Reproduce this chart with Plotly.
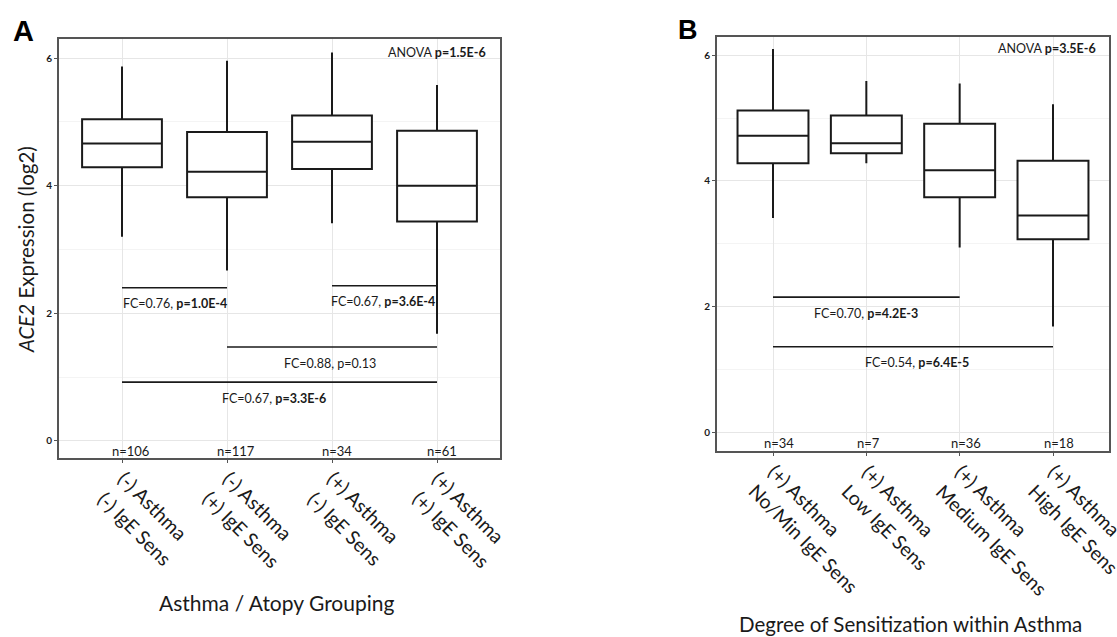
import plotly.graph_objects as go

# ---------------- data ----------------
cats_a = [["(-) Asthma", "(-) IgE Sens"], ["(-) Asthma", "(+) IgE Sens"],
          ["(+) Asthma", "(-) IgE Sens"], ["(+) Asthma", "(+) IgE Sens"]]
n_a = ["n=106", "n=117", "n=34", "n=61"]
low_a = [3.20, 2.67, 3.41, 1.68]
q1_a = [4.29, 3.82, 4.26, 3.44]
med_a = [4.66, 4.22, 4.69, 4.00]
q3_a = [5.04, 4.84, 5.10, 4.86]
high_a = [5.87, 5.96, 6.09, 5.58]

cats_b = [["(+) Asthma", "No/Min IgE Sens"], ["(+) Asthma", "Low IgE Sens"],
          ["(+) Asthma", "Medium IgE Sens"], ["(+) Asthma", "High IgE Sens"]]
n_b = ["n=34", "n=7", "n=36", "n=18"]
low_b = [3.41, 4.28, 2.94, 1.68]
q1_b = [4.28, 4.44, 3.74, 3.07]
med_b = [4.72, 4.60, 4.17, 3.45]
q3_b = [5.12, 5.04, 4.91, 4.32]
high_b = [6.10, 5.59, 5.55, 5.22]

# comparison brackets: (start cat, end cat, line y, label)
brk_a_start = [0, 2, 1, 0]
brk_a_end = [1, 3, 3, 3]
brk_a_y = [2.40, 2.43, 1.47, 0.92]
brk_a_lab = ["FC=0.76, <b>p=1.0E-4</b>", "FC=0.67, <b>p=3.6E-4</b>",
             "FC=0.88, p=0.13", "FC=0.67, <b>p=3.3E-6</b>"]
brk_a_labx = [0.5, 2.49, 1.98, 1.45]

brk_b_start = [0, 0]
brk_b_end = [2, 3]
brk_b_y = [2.15, 1.36]
brk_b_lab = ["FC=0.70, <b>p=4.2E-3</b>", "FC=0.54, <b>p=6.4E-5</b>"]
brk_b_labx = [1.0, 1.54]

anova_a = "ANOVA <b>p=1.5E-6</b>"
anova_b = "ANOVA <b>p=3.5E-6</b>"

FONT = "Lato"
INK = "#1a1a1a"
W, H = 1117, 637

# panel geometry (pixels)
A_L, A_R, A_T, A_B = 59, 500, 39, 458
B_L, B_R, B_T, B_B = 717, 1109, 37, 451

fig = go.Figure()

def add_panel(xa, ya, low, q1, med, q3, high):
    xs = list(range(len(q1)))
    fig.add_trace(go.Box(
        x=xs, q1=q1, median=med, q3=q3, lowerfence=low, upperfence=high,
        width=0.76, whiskerwidth=0, fillcolor="white",
        line=dict(color=INK, width=2), boxpoints=False,
        xaxis=xa, yaxis=ya, showlegend=False, hoverinfo="skip"))

add_panel("x", "y", low_a, q1_a, med_a, q3_a, high_a)
add_panel("x2", "y2", low_b, q1_b, med_b, q3_b, high_b)

ann = []

def add_brackets(xa, ya, st, en, yy, labs, labx):
    for s, e, y, lab, lx in zip(st, en, yy, labs, labx):
        fig.add_trace(go.Scatter(x=[s, e], y=[y, y], mode="lines",
                                 line=dict(color=INK, width=1.6),
                                 xaxis=xa, yaxis=ya, showlegend=False,
                                 hoverinfo="skip"))
        ann.append(dict(x=lx, y=y, xref=xa, yref=ya, text=lab, showarrow=False,
                        yshift=-16, font=dict(family=FONT, size=12.5, color=INK)))

add_brackets("x", "y", brk_a_start, brk_a_end, brk_a_y, brk_a_lab, brk_a_labx)
add_brackets("x2", "y2", brk_b_start, brk_b_end, brk_b_y, brk_b_lab, brk_b_labx)

for i, t in enumerate(n_a):
    ann.append(dict(x=i, y=-0.16, xref="x", yref="y", text=t, showarrow=False,
                    xanchor="left", xshift=-12,
                    font=dict(family=FONT, size=13, color=INK)))
for i, t in enumerate(n_b):
    ann.append(dict(x=i, y=-0.18, xref="x2", yref="y2", text=t, showarrow=False,
                    xanchor="left", xshift=-11,
                    font=dict(family=FONT, size=13, color=INK)))

ann.append(dict(x=3.49, y=6.09, xref="x", yref="y", text=anova_a, showarrow=False,
                xanchor="right", font=dict(family=FONT, size=12.5, color=INK)))
ann.append(dict(x=3.48, y=6.10, xref="x2", yref="y2", text=anova_b, showarrow=False,
                xanchor="right", font=dict(family=FONT, size=12.5, color=INK)))

# rotated category labels (two lines, each drawn at 45 degrees from the tick)
TICK_FS = 19.5
LINE_STEP = 20            # per-line diagonal offset in px
HALF_DIAG = 18.4          # (line box height)/sqrt(2)

def add_cat_labels(xa, cats, bottom_px):
    for i, lines in enumerate(cats):
        for k, line in enumerate(lines):
            ann.append(dict(x=i, y=1 - bottom_px / H, xref=xa, yref="paper",
                            text=line, textangle=45, showarrow=False,
                            xanchor="left", yanchor="top",
                            xshift=7 - k * LINE_STEP - HALF_DIAG,
                            yshift=-(6 + k * LINE_STEP),
                            font=dict(family=FONT, size=TICK_FS, color=INK)))

add_cat_labels("x", cats_a, A_B)
add_cat_labels("x2", cats_b, B_B)

# panel letters
ann.append(dict(x=11 / W, y=1 - 13 / H, xref="paper", yref="paper", text="<b>A</b>",
                showarrow=False, xanchor="left", yanchor="top",
                font=dict(family="Liberation Sans", size=29, color="black")))
ann.append(dict(x=676 / W, y=1 - 13 / H, xref="paper", yref="paper", text="<b>B</b>",
                showarrow=False, xanchor="left", yanchor="top",
                font=dict(family="Liberation Sans", size=27, color="black")))
# axis titles
ann.append(dict(x=26 / W, y=1 - 250 / H, xref="paper", yref="paper",
                xanchor="center", yanchor="middle",
                text="<i>ACE2</i> Expression (log2)", textangle=-90, showarrow=False,
                font=dict(family=FONT, size=20.5, color=INK)))
ann.append(dict(x=276 / W, y=1 - 602 / H, xref="paper", yref="paper",
                xanchor="center", yanchor="middle",
                text="Asthma / Atopy Grouping", showarrow=False,
                font=dict(family=FONT, size=21, color=INK)))
ann.append(dict(x=910 / W, y=1 - 624 / H, xref="paper", yref="paper",
                xanchor="center", yanchor="middle",
                text="Degree of Sensitization within Asthma", showarrow=False,
                font=dict(family=FONT, size=20.5, color=INK)))

def xaxis(l, r, n, anchor):
    return dict(domain=[l / W, r / W], range=[-0.6, 3.6], tickvals=list(range(n)),
                showticklabels=False, showgrid=True, gridcolor="#e6e6e6",
                gridwidth=1, zeroline=False, showline=True, mirror=True,
                linecolor="#555", linewidth=2, ticks="outside", ticklen=3,
                tickcolor="#555", anchor=anchor)

def yaxis(t, b, anchor):
    return dict(domain=[1 - b / H, 1 - t / H], tickvals=[0, 2, 4, 6],
                showgrid=True, gridcolor="#e6e6e6", gridwidth=1, zeroline=False,
                minor=dict(tickvals=[1, 3, 5], showgrid=True, gridcolor="#f4f4f4", ticks=""),
                showline=True, mirror=True, linecolor="#555", linewidth=2,
                ticks="outside", ticklen=3, tickcolor="#555", anchor=anchor,
                tickfont=dict(family=FONT, size=10, color=INK, weight="bold"))

fig.update_layout(
    width=W, height=H, autosize=False,
    margin=dict(l=0, r=0, t=0, b=0),
    paper_bgcolor="white", plot_bgcolor="white",
    xaxis=xaxis(A_L, A_R, len(cats_a), "y"),
    yaxis=dict(**yaxis(A_T, A_B, "x"), range=[-0.27, 6.3]),
    xaxis2=xaxis(B_L, B_R, len(cats_b), "y2"),
    yaxis2=dict(**yaxis(B_T, B_B, "x2"), range=[-0.3, 6.29]),
    annotations=ann,
)

fig.write_html("out.html", config={"displayModeBar": False},
               post_script="document.body.style.margin='0';")
